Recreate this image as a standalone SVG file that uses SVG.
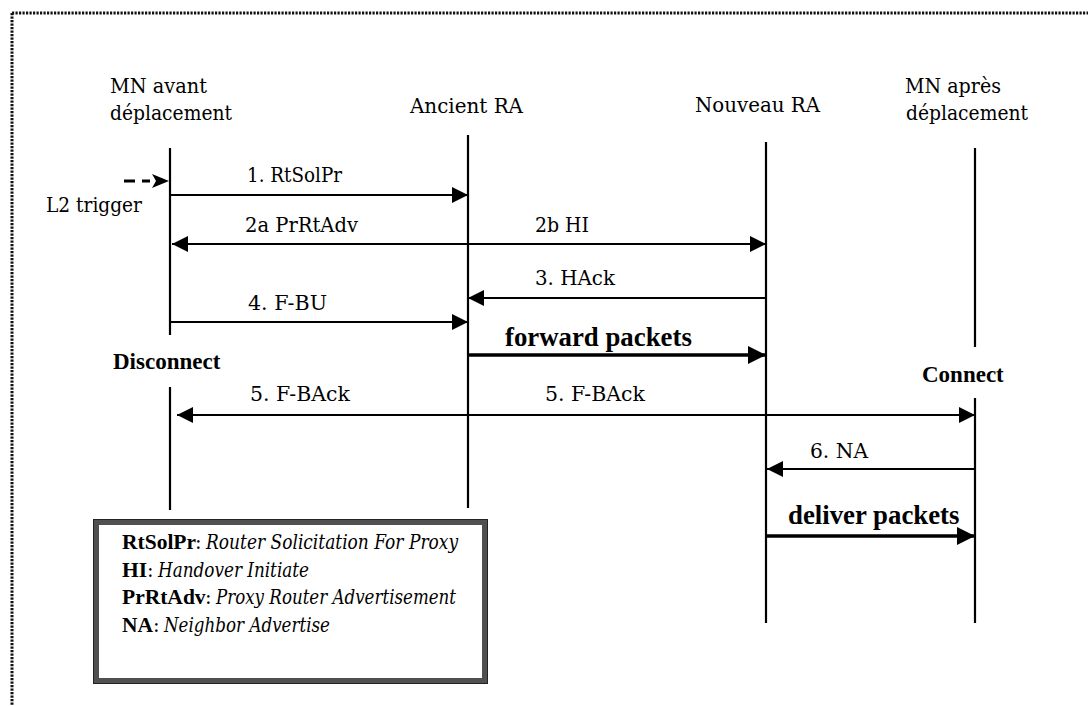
<svg xmlns="http://www.w3.org/2000/svg" width="1088" height="706" viewBox="0 0 1088 706">
  <defs>
    <style>
      text { fill: #000; }
      .hdr, .lbl, .leg-d, .leg-c { font-family: "DejaVu Serif", "Liberation Serif", serif; }
      .hdr, .lbl { font-size: 21px; }
      .state, .flow, .leg-k { font-family: "Liberation Serif", "Times New Roman", serif; font-weight: bold; }
      .state { font-size: 23px; }
      .flow { font-size: 26.8px; }
      .leg-k { font-size: 21.5px; }
      .leg-c { font-size: 19.5px; }
      .leg-d { font-size: 19.5px; font-style: italic; }
      .life { stroke: #000; stroke-width: 2.2; fill: none; }
      .msg { stroke: #000; stroke-width: 2.2; fill: none; }
      .bold { stroke: #000; stroke-width: 3.6; fill: none; }
      .frame { stroke: #111; stroke-width: 3; stroke-dasharray: 2.2 1.3; fill: none; }
    </style>
    <marker id="head" viewBox="0 0 16 16" refX="16" refY="8" markerWidth="16" markerHeight="16" markerUnits="userSpaceOnUse" orient="auto-start-reverse">
      <path d="M0,0 L16,8 L0,16 Z" fill="#000"/>
    </marker>
    <marker id="headBig" viewBox="0 0 18 18" refX="18" refY="9" markerWidth="18" markerHeight="18" markerUnits="userSpaceOnUse" orient="auto-start-reverse">
      <path d="M0,0 L18,9 L0,18 Z" fill="#000"/>
    </marker>
  </defs>

  <rect width="1088" height="706" fill="#fff"/>

  <!-- dotted outer frame (top and left edges) -->
  <path class="frame" d="M12,13 H1088 M12,13 V706"/>

  <!-- participants -->
  <g id="mn-avant">
    <text class="hdr" x="110" y="93" textLength="97" lengthAdjust="spacingAndGlyphs">MN avant</text>
    <text class="hdr" x="110" y="120" textLength="122" lengthAdjust="spacingAndGlyphs">déplacement</text>
    <path class="life" d="M170,148 V335 M170,387 V510"/>
    <text class="state" x="113" y="369">Disconnect</text>
  </g>

  <g id="ancient-ra">
    <text class="hdr" x="410" y="113" textLength="113" lengthAdjust="spacingAndGlyphs">Ancient RA</text>
    <path class="life" d="M468,135 V508"/>
  </g>

  <g id="nouveau-ra">
    <text class="hdr" x="695" y="112" textLength="125" lengthAdjust="spacingAndGlyphs">Nouveau RA</text>
    <path class="life" d="M766,142 V623"/>
  </g>

  <g id="mn-apres">
    <text class="hdr" x="905" y="93" textLength="96" lengthAdjust="spacingAndGlyphs">MN après</text>
    <text class="hdr" x="906" y="120" textLength="122" lengthAdjust="spacingAndGlyphs">déplacement</text>
    <path class="life" d="M975,148 V347 M975,398 V623"/>
    <text class="state" x="922" y="382">Connect</text>
  </g>

  <!-- messages -->
  <g id="connectors">
    <!-- L2 trigger -->
    <path d="M124,181 H135 M142,181 H150" stroke="#000" stroke-width="3.2" fill="none"/>
    <path d="M152,174 L169,181 L152,188 L156,181 Z" fill="#000"/>
    <text class="lbl" x="46" y="212" textLength="96" lengthAdjust="spacingAndGlyphs">L2 trigger</text>

    <!-- 1. RtSolPr -->
    <line class="msg" x1="170" y1="195" x2="468" y2="195" marker-end="url(#head)"/>
    <text class="lbl" x="247" y="182" textLength="95" lengthAdjust="spacingAndGlyphs">1. RtSolPr</text>

    <!-- 2a PrRtAdv / 2b HI -->
    <line class="msg" x1="172" y1="244" x2="766" y2="244" marker-start="url(#head)" marker-end="url(#head)"/>
    <text class="lbl" x="245" y="232" textLength="113" lengthAdjust="spacingAndGlyphs">2a PrRtAdv</text>
    <text class="lbl" x="535" y="232" textLength="54" lengthAdjust="spacingAndGlyphs">2b HI</text>

    <!-- 3. HAck -->
    <line class="msg" x1="766" y1="298" x2="468" y2="298" marker-end="url(#head)"/>
    <text class="lbl" x="535" y="285" textLength="80" lengthAdjust="spacingAndGlyphs">3. HAck</text>

    <!-- 4. F-BU -->
    <line class="msg" x1="170" y1="322" x2="468" y2="322" marker-end="url(#head)"/>
    <text class="lbl" x="248" y="310" textLength="79" lengthAdjust="spacingAndGlyphs">4. F-BU</text>

    <!-- forward packets -->
    <line class="bold" x1="468" y1="355" x2="766" y2="355" marker-end="url(#headBig)"/>
    <text class="flow" x="505" y="346">forward packets</text>

    <!-- 5. F-BAck both ways -->
    <line class="msg" x1="177" y1="415" x2="975" y2="415" marker-start="url(#head)" marker-end="url(#head)"/>
    <text class="lbl" x="250" y="401" textLength="100" lengthAdjust="spacingAndGlyphs">5. F-BAck</text>
    <text class="lbl" x="545" y="401" textLength="100" lengthAdjust="spacingAndGlyphs">5. F-BAck</text>

    <!-- 6. NA -->
    <line class="msg" x1="975" y1="469" x2="767" y2="469" marker-end="url(#head)"/>
    <text class="lbl" x="810" y="458" textLength="58" lengthAdjust="spacingAndGlyphs">6. NA</text>

    <!-- deliver packets -->
    <line class="bold" x1="766" y1="536" x2="975" y2="536" marker-end="url(#headBig)"/>
    <text class="flow" x="788" y="524">deliver packets</text>
  </g>

  <!-- legend -->
  <g id="legend">
    <path d="M93,519 H488 V684 H93 Z M99,525 V678 H482 V525 Z" fill="#505050" fill-rule="evenodd"/>
    <rect x="93.5" y="519.5" width="394" height="164" fill="none" stroke="#222" stroke-width="1"/>
    <text y="549"><tspan class="leg-k" x="122">RtSolPr</tspan><tspan class="leg-c" x="195">: </tspan><tspan class="leg-d" x="206" textLength="252" lengthAdjust="spacingAndGlyphs">Router Solicitation For Proxy</tspan></text>
    <text y="577"><tspan class="leg-k" x="122">HI</tspan><tspan class="leg-c" x="147">: </tspan><tspan class="leg-d" x="158" textLength="151" lengthAdjust="spacingAndGlyphs">Handover Initiate</tspan></text>
    <text y="604"><tspan class="leg-k" x="122">PrRtAdv</tspan><tspan class="leg-c" x="205">: </tspan><tspan class="leg-d" x="216" textLength="240" lengthAdjust="spacingAndGlyphs">Proxy Router Advertisement</tspan></text>
    <text y="632"><tspan class="leg-k" x="122">NA</tspan><tspan class="leg-c" x="153">: </tspan><tspan class="leg-d" x="164" textLength="166" lengthAdjust="spacingAndGlyphs">Neighbor Advertise</tspan></text>
  </g>
</svg>
